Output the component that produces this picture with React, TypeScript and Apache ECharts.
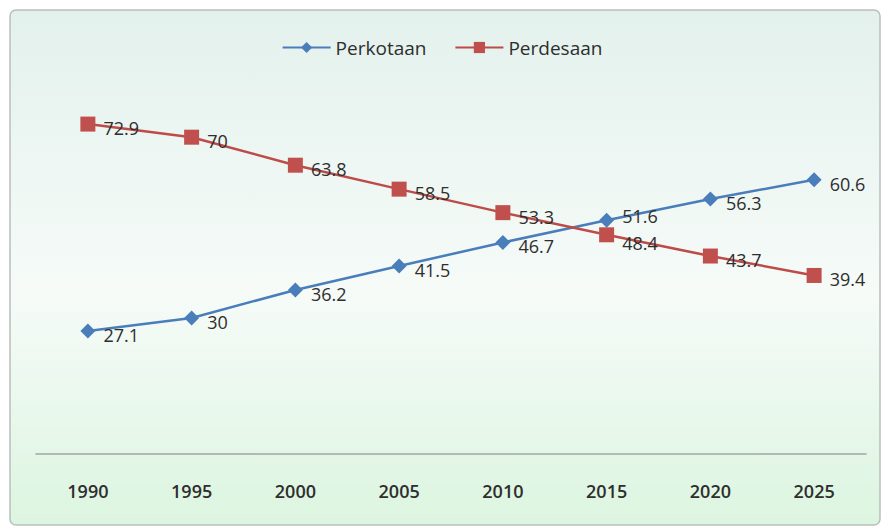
import React, { useEffect, useRef } from "react";
import * as echarts from "echarts";

const years = ["1990", "1995", "2000", "2005", "2010", "2015", "2020", "2025"];
const perkotaan = [27.1, 30, 36.2, 41.5, 46.7, 51.6, 56.3, 60.6];
const perdesaan = [72.9, 70, 63.8, 58.5, 53.3, 48.4, 43.7, 39.4];

const FONT = "'Open Sans', 'DejaVu Sans', sans-serif";

export default function App() {
  const ref = useRef<HTMLDivElement>(null);
  useEffect(() => {
    if (!ref.current) return;
    const chart = echarts.init(ref.current, undefined, { renderer: "svg" });
    const labelCfg = {
      show: true,
      position: "right" as const,
      distance: 8,
      offset: [0, 4],
      fontFamily: FONT,
      fontSize: 18,
      color: "#2e2e2e",
    };
    chart.setOption({
      animation: false,
      backgroundColor: "#ffffff",
      graphic: [
        {
          type: "rect",
          z: -10,
          shape: { x: 10, y: 10, width: 870, height: 515, r: 6 },
          style: {
            fill: new echarts.graphic.LinearGradient(0, 0, 0, 1, [
              { offset: 0, color: "#e3f1ec" },
              { offset: 0.55, color: "#f6fbf8" },
              { offset: 1, color: "#dcf5e0" },
            ]),
            stroke: "#b9bfbd",
            lineWidth: 1.5,
          },
        },
      ],
      legend: {
        top: 33,
        left: "center",
        itemWidth: 48,
        itemHeight: 14,
        itemGap: 28,
        textStyle: { fontFamily: FONT, fontSize: 19, color: "#2e2e2e" },
        data: ["Perkotaan", "Perdesaan"],
      },
      grid: { left: 36, right: 18, top: 92, bottom: 74.5 },
      xAxis: {
        type: "category",
        data: years,
        boundaryGap: true,
        axisLine: { lineStyle: { color: "#9fa8a6", width: 1.5 } },
        axisTick: { show: false },
        axisLabel: {
          margin: 28,
          fontFamily: FONT,
          fontSize: 18,
          fontWeight: 600,
          color: "#2e2e2e",
        },
      },
      yAxis: {
        type: "value",
        min: 0,
        max: 80,
        show: false,
        splitLine: { show: false },
      },
      series: [
        {
          name: "Perkotaan",
          type: "line",
          data: perkotaan.map((v, i) =>
            i === 5 ? { value: v, label: { offset: [0, -4] } } : v
          ),
          symbol: "diamond",
          symbolSize: 15,
          itemStyle: { color: "#4a7ebb" },
          lineStyle: { color: "#4a7ebb", width: 2.5 },
          label: labelCfg,
        },
        {
          name: "Perdesaan",
          type: "line",
          data: perdesaan.map((v, i) =>
            i === 5 ? { value: v, label: { offset: [0, 8] } } : v
          ),
          symbol: "rect",
          symbolSize: 15,
          itemStyle: { color: "#c0504d" },
          lineStyle: { color: "#be4b48", width: 2.5 },
          label: labelCfg,
        },
      ],
    });
    return () => chart.dispose();
  }, []);
  return (
    <div
      ref={ref}
      style={{ position: "fixed", left: 0, top: 0, width: 884, height: 528 }}
    />
  );
}
